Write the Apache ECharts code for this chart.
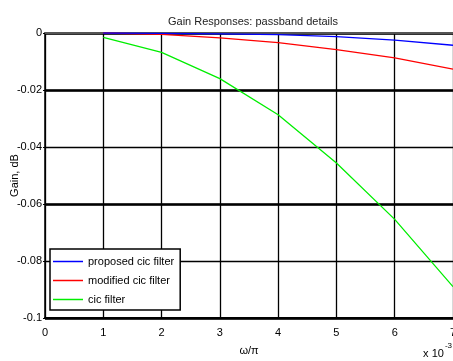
<!DOCTYPE html>
<html>
<head>
<meta charset="utf-8">
<script src="https://cdn.jsdelivr.net/npm/echarts@6/dist/echarts.min.js"></script>
<style>
html,body{margin:0;padding:0;background:#fff;}
#c{width:453px;height:361px;}
</style>
</head>
<body>
<div id="c"></div>
<script>
const freq = [1, 2, 3, 4, 5, 6, 7];
const proposed = [0, -0.0001, -0.0003, -0.0006, -0.0013, -0.0025, -0.0043];
const modified = [0, -0.0005, -0.0017, -0.0034, -0.0058, -0.0087, -0.0127];
const cic = [-0.0015, -0.0068, -0.016, -0.0287, -0.0456, -0.0654, -0.089];
const seriesNames = ['proposed cic filter', 'modified cic filter', 'cic filter'];
const titleText = 'Gain Responses: passband details';
const xName = 'ω/π';
const yName = 'Gain, dB';

const FONT = "'Liberation Sans', Arial, sans-serif";
const pairs = a => freq.map((f, i) => [f, a[i]]);

const chart = echarts.init(document.getElementById('c'), null, {renderer: 'canvas'});
chart.setOption({
  backgroundColor: '#fff',
  animation: false,
  textStyle: {fontFamily: FONT, color: '#000'},
  title: {
    text: titleText, left: 248, top: 11, textAlign: 'center',
    textStyle: {fontSize: 11, fontWeight: 'normal', color: '#222', fontFamily: FONT}
  },
  grid: {left: 45, top: 33, right: 0, bottom: 43, containLabel: false, outerBoundsMode: 'none'},
  legend: {
    orient: 'vertical', left: 50, top: 249,
    data: seriesNames,
    icon: 'rect',
    backgroundColor: '#fff', borderColor: '#000', borderWidth: 1.5,
    padding: [7, 6, 5, 3], itemGap: 8,
    itemWidth: 30, itemHeight: 1.5,
    textStyle: {fontSize: 11, color: '#000', fontFamily: FONT, lineHeight: 11}
  },
  graphic: [{
    type: 'text', right: 1, bottom: 2,
    style: {
      text: '{a|x 10}{b|-3}',
      rich: {
        a: {fontSize: 11, fontFamily: FONT, fill: '#000', padding: [6, 0, 0, 0]},
        b: {fontSize: 8, fontFamily: FONT, fill: '#000', verticalAlign: 'top', padding: [0, 0, 6, 1]}
      }
    }
  }],
  xAxis: [{
    type: 'value', min: 0, max: 7, interval: 1, position: 'bottom',
    name: xName, nameLocation: 'middle', nameGap: 27, nameMoveOverlap: false,
    nameTextStyle: {fontSize: 11, fontFamily: FONT, color: '#000'},
    axisLine: {show: true, onZero: false, lineStyle: {color: '#000', width: 2}},
    axisTick: {show: false},
    axisLabel: {fontSize: 11, color: '#000', margin: 9, fontFamily: FONT},
    splitLine: {show: true, lineStyle: {color: '#000', width: 1.3}}
  }, {
    type: 'value', min: 0, max: 7, interval: 1, position: 'top',
    axisLine: {show: true, lineStyle: {color: '#555', width: 2}},
    axisTick: {show: false}, axisLabel: {show: false}, splitLine: {show: false}
  }],
  yAxis: [{
    type: 'value', min: -0.1, max: 0, interval: 0.02,
    name: yName, nameLocation: 'middle', nameGap: 25, nameRotate: 90, nameMoveOverlap: false,
    nameTextStyle: {fontSize: 11, fontFamily: FONT, color: '#000'},
    axisLine: {show: true, lineStyle: {color: '#000', width: 1.5}},
    axisTick: {show: true, inside: false, length: 2, lineStyle: {color: '#000'}},
    axisLabel: {fontSize: 11, color: '#000', margin: 3, fontFamily: FONT,
      formatter: v => (Math.abs(v) < 1e-9 ? '0' : String(+v.toFixed(2)))},
    splitLine: {show: true, lineStyle: {color: '#000', width: 1.3}}
  }, {
    type: 'value', min: -0.1, max: 0, interval: 0.04, position: 'left',
    axisLine: {show: false}, axisTick: {show: false}, axisLabel: {show: false},
    splitLine: {show: true, lineStyle: {color: '#000', width: 2.5}}
  }],
  series: [
    {name: seriesNames[0], type: 'line', data: pairs(proposed), symbol: 'none',
     lineStyle: {color: '#0000ff', width: 1.3}, itemStyle: {color: '#0000ff'}, z: 5},
    {name: seriesNames[1], type: 'line', data: pairs(modified), symbol: 'none',
     lineStyle: {color: '#ff0000', width: 1.3}, itemStyle: {color: '#ff0000'}, z: 4},
    {name: seriesNames[2], type: 'line', data: pairs(cic), symbol: 'none',
     lineStyle: {color: '#00ee00', width: 1.3}, itemStyle: {color: '#00ee00'}, z: 3}
  ]
});
</script>
</body>
</html>
